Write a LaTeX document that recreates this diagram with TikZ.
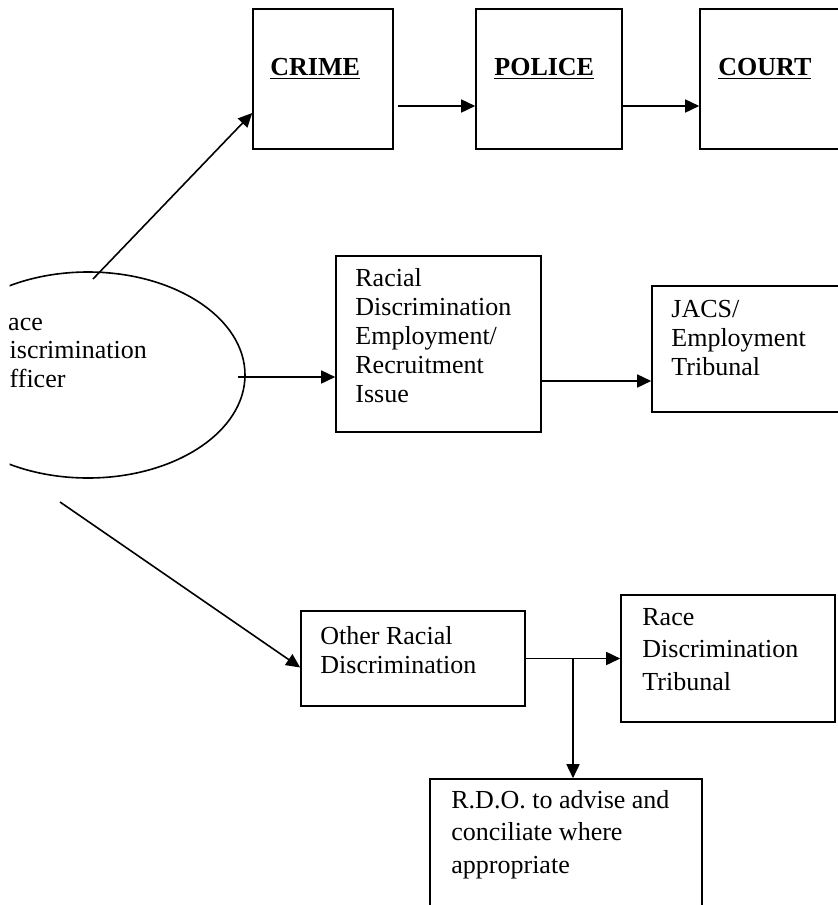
\documentclass[tikz,border=0pt]{standalone}
\usepackage{fontspec}
\setmainfont{Liberation Serif}
\usetikzlibrary{arrows.meta,fit,shapes.geometric,calc}

\begin{document}
\begin{tikzpicture}[
  x=0.5pt,y=-0.5pt,
  every node/.style={font=\fontsize{13}{14.5}\selectfont,align=left},
  box/.style={draw,line width=0.8pt,inner sep=0pt},
  oval/.style={draw,ellipse,line width=0.8pt,inner sep=0pt,
    minimum width=157pt,minimum height=103pt},
  txt/.style={anchor=base west,inner sep=0pt},
  wide/.style={font=\fontsize{13}{16.25}\selectfont},
  arrow/.style={-{Triangle[length=7pt,width=6.5pt]},line width=0.8pt}
]
  \useasboundingbox (0,0) rectangle (838,905);

  % top row
  \node[box,fit={(253,9) (393,149)}] (crime) {};
  \node[box,fit={(476,9) (622,149)}] (police) {};
  \node[box,fit={(700,9) (845,149)}] (court) {};
  \node[txt] (crimetxt) at (270,75) {\underline{\textbf{CRIME}}};
  \node[txt] (policetxt) at (494,75) {\underline{\textbf{POLICE}}};
  \node[txt] (courttxt) at (718,75) {\underline{\textbf{COURT}}};

  % officer, cut at the left like the page it came from
  \begin{scope}
    \clip (9.5,0) rectangle (838,905);
    \node[oval] (officer) at (88,375) {};
    \node[txt,font=\fontsize{13}{14.25}\selectfont] (officertxt) at (-9.5,387)
      {Race\\Discrimination\\Officer};
  \end{scope}

  % middle row, base = last line
  \node[box,fit={(336,256) (541,432)}] (racial) {};
  \node[txt] (racialtxt) at (355,402)
    {Racial\\Discrimination\\Employment/\\Recruitment\\Issue};
  \node[box,fit={(652,286) (845,412)}] (jacs) {};
  \node[txt] (jacstxt) at (671,375) {JACS/\\Employment\\Tribunal};

  % bottom part
  \node[box,fit={(301,611) (525,706)}] (other) {};
  \node[txt] (othertxt) at (320,673) {Other Racial\\Discrimination};
  \node[box,fit={(621,595) (835,722)}] (tribunal) {};
  \node[txt,wide] (tribunaltxt) at (642,690) {Race\\Discrimination\\Tribunal};
  \node[box,fit={(430,779) (702,925)}] (rdo) {};
  \node[txt,wide] (rdotxt) at (451,873)
    {R.D.O. to advise and\\conciliate where\\appropriate};

  \coordinate (up) at (93,279);
  \coordinate (down) at (60,502);
  \coordinate (split) at ($(other.east)!0.5!(tribunal.west)$);

  \draw[arrow] (up) -- ([yshift=-17pt]crime.west);
  \draw[arrow,shorten <=2pt] (crime.east |- 0,106) -- (police.west |- 0,106);
  \draw[arrow] (police.east |- 0,106) -- (court.west |- 0,106);
  \draw[arrow] ([xshift=-4pt,yshift=-1pt]officer.east) -- (racial.west |- 0,377);
  \draw[arrow] (racial.east |- 0,381) -- (jacs.west |- 0,381);
  \draw[arrow] (down) -- ([yshift=-4.5pt]other.west);
  \draw[arrow] (other.east) -- (tribunal.west);
  \draw[arrow] (split) -- (split |- rdo.north);
\end{tikzpicture}
\end{document}
